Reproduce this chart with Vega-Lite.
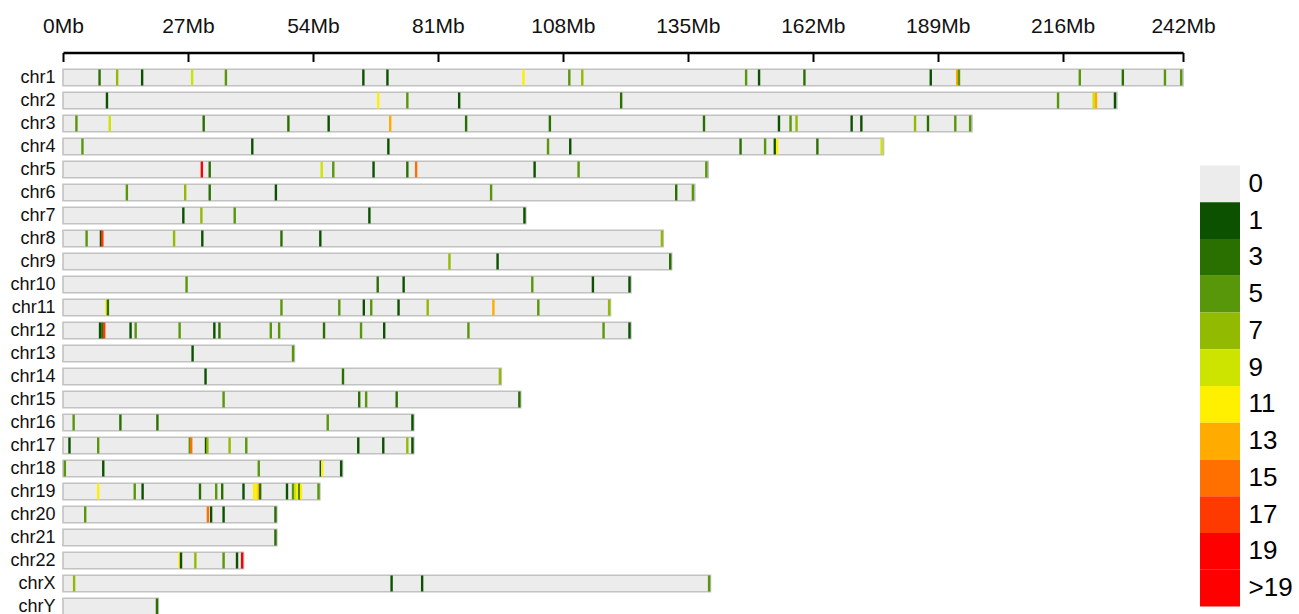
{
  "$schema": "https://vega.github.io/schema/vega-lite/v6.json",
  "background": "white",
  "padding": {"left": 9, "top": 15, "right": 0, "bottom": 0},
  "bounds": "flush",
  "spacing": 17,
  "config": {
    "view": {"stroke": null},
    "font": "Liberation Sans",
    "axis": {"labelFont": "Liberation Sans", "labelColor": "#111111", "grid": false}
  },
  "datasets": {
    "chromosomes": [
      {"chr": "chr1", "len": 242.0}, {"chr": "chr2", "len": 227.7}, {"chr": "chr3", "len": 196.4},
      {"chr": "chr4", "len": 177.3}, {"chr": "chr5", "len": 139.4}, {"chr": "chr6", "len": 136.5},
      {"chr": "chr7", "len": 100.0}, {"chr": "chr8", "len": 129.7}, {"chr": "chr9", "len": 131.5},
      {"chr": "chr10", "len": 122.7}, {"chr": "chr11", "len": 118.3}, {"chr": "chr12", "len": 122.7},
      {"chr": "chr13", "len": 50.0}, {"chr": "chr14", "len": 94.7}, {"chr": "chr15", "len": 98.9},
      {"chr": "chr16", "len": 75.8}, {"chr": "chr17", "len": 75.8}, {"chr": "chr18", "len": 60.4},
      {"chr": "chr19", "len": 55.5}, {"chr": "chr20", "len": 46.2}, {"chr": "chr21", "len": 46.2},
      {"chr": "chr22", "len": 39.0}, {"chr": "chrX", "len": 139.9}, {"chr": "chrY", "len": 20.6}
    ],
    "density": [
      {"chr": "chr1", "pos": 7.9, "n": "3"}, {"chr": "chr1", "pos": 11.7, "n": "7"}, {"chr": "chr1", "pos": 17.1, "n": "1"},
      {"chr": "chr1", "pos": 27.9, "n": "9"}, {"chr": "chr1", "pos": 35.2, "n": "5"}, {"chr": "chr1", "pos": 64.9, "n": "1"},
      {"chr": "chr1", "pos": 70.1, "n": "1"}, {"chr": "chr1", "pos": 99.5, "n": "11"}, {"chr": "chr1", "pos": 109.4, "n": "5"},
      {"chr": "chr1", "pos": 112.2, "n": "7"}, {"chr": "chr1", "pos": 147.6, "n": "5"}, {"chr": "chr1", "pos": 150.4, "n": "1"},
      {"chr": "chr1", "pos": 160.2, "n": "3"}, {"chr": "chr1", "pos": 187.5, "n": "1"}, {"chr": "chr1", "pos": 193.2, "n": "13"},
      {"chr": "chr1", "pos": 193.6, "n": "5"}, {"chr": "chr1", "pos": 219.7, "n": "5"}, {"chr": "chr1", "pos": 229.0, "n": "3"},
      {"chr": "chr1", "pos": 238.1, "n": "5"}, {"chr": "chr1", "pos": 241.6, "n": "5"},
      {"chr": "chr2", "pos": 9.5, "n": "1"}, {"chr": "chr2", "pos": 68.1, "n": "11"}, {"chr": "chr2", "pos": 74.4, "n": "5"},
      {"chr": "chr2", "pos": 85.6, "n": "1"}, {"chr": "chr2", "pos": 120.6, "n": "3"}, {"chr": "chr2", "pos": 215.0, "n": "5"},
      {"chr": "chr2", "pos": 222.7, "n": "9"}, {"chr": "chr2", "pos": 223.2, "n": "13"}, {"chr": "chr2", "pos": 227.3, "n": "1"},
      {"chr": "chr3", "pos": 2.9, "n": "5"}, {"chr": "chr3", "pos": 10.1, "n": "9"}, {"chr": "chr3", "pos": 30.4, "n": "3"},
      {"chr": "chr3", "pos": 48.7, "n": "3"}, {"chr": "chr3", "pos": 57.4, "n": "1"}, {"chr": "chr3", "pos": 70.7, "n": "13"},
      {"chr": "chr3", "pos": 87.1, "n": "3"}, {"chr": "chr3", "pos": 105.2, "n": "3"}, {"chr": "chr3", "pos": 138.5, "n": "3"},
      {"chr": "chr3", "pos": 154.7, "n": "1"}, {"chr": "chr3", "pos": 157.2, "n": "5"}, {"chr": "chr3", "pos": 158.5, "n": "7"},
      {"chr": "chr3", "pos": 170.4, "n": "1"}, {"chr": "chr3", "pos": 172.5, "n": "1"}, {"chr": "chr3", "pos": 184.1, "n": "7"},
      {"chr": "chr3", "pos": 186.9, "n": "3"}, {"chr": "chr3", "pos": 192.8, "n": "5"}, {"chr": "chr3", "pos": 196.0, "n": "5"},
      {"chr": "chr4", "pos": 4.2, "n": "5"}, {"chr": "chr4", "pos": 40.9, "n": "1"}, {"chr": "chr4", "pos": 70.3, "n": "1"},
      {"chr": "chr4", "pos": 104.8, "n": "5"}, {"chr": "chr4", "pos": 109.6, "n": "1"}, {"chr": "chr4", "pos": 146.4, "n": "3"},
      {"chr": "chr4", "pos": 151.7, "n": "5"}, {"chr": "chr4", "pos": 153.8, "n": "1"}, {"chr": "chr4", "pos": 154.3, "n": "11"},
      {"chr": "chr4", "pos": 163.0, "n": "3"}, {"chr": "chr4", "pos": 176.9, "n": "9"},
      {"chr": "chr5", "pos": 30.0, "n": "19"}, {"chr": "chr5", "pos": 31.7, "n": "3"}, {"chr": "chr5", "pos": 55.9, "n": "9"},
      {"chr": "chr5", "pos": 58.4, "n": "5"}, {"chr": "chr5", "pos": 67.1, "n": "1"}, {"chr": "chr5", "pos": 74.4, "n": "3"},
      {"chr": "chr5", "pos": 76.3, "n": "15"}, {"chr": "chr5", "pos": 101.9, "n": "1"}, {"chr": "chr5", "pos": 111.4, "n": "5"},
      {"chr": "chr5", "pos": 139.0, "n": "5"},
      {"chr": "chr6", "pos": 13.8, "n": "5"}, {"chr": "chr6", "pos": 26.4, "n": "7"}, {"chr": "chr6", "pos": 31.7, "n": "3"},
      {"chr": "chr6", "pos": 46.0, "n": "1"}, {"chr": "chr6", "pos": 92.5, "n": "5"}, {"chr": "chr6", "pos": 132.5, "n": "3"},
      {"chr": "chr6", "pos": 136.1, "n": "5"},
      {"chr": "chr7", "pos": 26.0, "n": "1"}, {"chr": "chr7", "pos": 29.9, "n": "7"}, {"chr": "chr7", "pos": 37.1, "n": "5"},
      {"chr": "chr7", "pos": 66.2, "n": "1"}, {"chr": "chr7", "pos": 99.7, "n": "1"},
      {"chr": "chr8", "pos": 5.1, "n": "5"}, {"chr": "chr8", "pos": 8.2, "n": "1"}, {"chr": "chr8", "pos": 8.5, "n": "17"},
      {"chr": "chr8", "pos": 24.0, "n": "7"}, {"chr": "chr8", "pos": 30.1, "n": "1"}, {"chr": "chr8", "pos": 47.2, "n": "3"},
      {"chr": "chr8", "pos": 55.6, "n": "1"}, {"chr": "chr8", "pos": 129.4, "n": "7"},
      {"chr": "chr9", "pos": 83.5, "n": "7"}, {"chr": "chr9", "pos": 93.9, "n": "1"}, {"chr": "chr9", "pos": 131.2, "n": "3"},
      {"chr": "chr10", "pos": 26.7, "n": "5"}, {"chr": "chr10", "pos": 68.0, "n": "3"}, {"chr": "chr10", "pos": 73.6, "n": "1"},
      {"chr": "chr10", "pos": 101.4, "n": "5"}, {"chr": "chr10", "pos": 114.5, "n": "1"}, {"chr": "chr10", "pos": 122.4, "n": "1"},
      {"chr": "chr11", "pos": 9.4, "n": "11"}, {"chr": "chr11", "pos": 9.7, "n": "3"}, {"chr": "chr11", "pos": 47.2, "n": "5"},
      {"chr": "chr11", "pos": 59.7, "n": "5"}, {"chr": "chr11", "pos": 65.0, "n": "1"}, {"chr": "chr11", "pos": 66.6, "n": "5"},
      {"chr": "chr11", "pos": 72.5, "n": "1"}, {"chr": "chr11", "pos": 78.8, "n": "7"}, {"chr": "chr11", "pos": 93.0, "n": "13"},
      {"chr": "chr11", "pos": 102.7, "n": "5"}, {"chr": "chr11", "pos": 118.0, "n": "7"},
      {"chr": "chr12", "pos": 8.0, "n": "1"}, {"chr": "chr12", "pos": 8.5, "n": "3"}, {"chr": "chr12", "pos": 8.9, "n": "17"},
      {"chr": "chr12", "pos": 14.6, "n": "1"}, {"chr": "chr12", "pos": 15.7, "n": "5"}, {"chr": "chr12", "pos": 25.2, "n": "5"},
      {"chr": "chr12", "pos": 32.7, "n": "1"}, {"chr": "chr12", "pos": 33.8, "n": "3"}, {"chr": "chr12", "pos": 44.9, "n": "5"},
      {"chr": "chr12", "pos": 46.7, "n": "5"}, {"chr": "chr12", "pos": 56.4, "n": "3"}, {"chr": "chr12", "pos": 64.4, "n": "5"},
      {"chr": "chr12", "pos": 69.4, "n": "1"}, {"chr": "chr12", "pos": 87.6, "n": "5"}, {"chr": "chr12", "pos": 116.8, "n": "5"},
      {"chr": "chr12", "pos": 122.4, "n": "1"},
      {"chr": "chr13", "pos": 28.0, "n": "1"}, {"chr": "chr13", "pos": 49.7, "n": "5"},
      {"chr": "chr14", "pos": 30.8, "n": "1"}, {"chr": "chr14", "pos": 60.5, "n": "3"}, {"chr": "chr14", "pos": 94.4, "n": "7"},
      {"chr": "chr15", "pos": 34.7, "n": "5"}, {"chr": "chr15", "pos": 64.0, "n": "3"}, {"chr": "chr15", "pos": 65.5, "n": "5"},
      {"chr": "chr15", "pos": 72.1, "n": "3"}, {"chr": "chr15", "pos": 98.6, "n": "3"},
      {"chr": "chr16", "pos": 2.3, "n": "5"}, {"chr": "chr16", "pos": 12.4, "n": "3"}, {"chr": "chr16", "pos": 20.4, "n": "3"},
      {"chr": "chr16", "pos": 57.2, "n": "5"}, {"chr": "chr16", "pos": 75.5, "n": "1"},
      {"chr": "chr17", "pos": 1.4, "n": "1"}, {"chr": "chr17", "pos": 7.6, "n": "5"}, {"chr": "chr17", "pos": 27.4, "n": "5"},
      {"chr": "chr17", "pos": 27.7, "n": "15"}, {"chr": "chr17", "pos": 30.9, "n": "1"}, {"chr": "chr17", "pos": 31.2, "n": "7"},
      {"chr": "chr17", "pos": 36.0, "n": "7"}, {"chr": "chr17", "pos": 39.6, "n": "5"}, {"chr": "chr17", "pos": 63.8, "n": "1"},
      {"chr": "chr17", "pos": 69.2, "n": "1"}, {"chr": "chr17", "pos": 74.4, "n": "7"}, {"chr": "chr17", "pos": 75.5, "n": "1"},
      {"chr": "chr18", "pos": 0.4, "n": "5"}, {"chr": "chr18", "pos": 8.7, "n": "1"}, {"chr": "chr18", "pos": 42.3, "n": "5"},
      {"chr": "chr18", "pos": 55.7, "n": "1"}, {"chr": "chr18", "pos": 56.0, "n": "11"}, {"chr": "chr18", "pos": 60.1, "n": "1"},
      {"chr": "chr19", "pos": 7.6, "n": "11"}, {"chr": "chr19", "pos": 15.5, "n": "5"}, {"chr": "chr19", "pos": 17.2, "n": "1"},
      {"chr": "chr19", "pos": 29.6, "n": "3"}, {"chr": "chr19", "pos": 33.1, "n": "5"}, {"chr": "chr19", "pos": 34.4, "n": "3"},
      {"chr": "chr19", "pos": 39.0, "n": "1"}, {"chr": "chr19", "pos": 41.3, "n": "11"}, {"chr": "chr19", "pos": 41.8, "n": "11"},
      {"chr": "chr19", "pos": 42.3, "n": "13"}, {"chr": "chr19", "pos": 42.6, "n": "3"}, {"chr": "chr19", "pos": 48.4, "n": "1"},
      {"chr": "chr19", "pos": 49.7, "n": "5"}, {"chr": "chr19", "pos": 50.2, "n": "9"}, {"chr": "chr19", "pos": 50.7, "n": "11"},
      {"chr": "chr19", "pos": 51.1, "n": "1"}, {"chr": "chr19", "pos": 51.4, "n": "11"}, {"chr": "chr19", "pos": 55.2, "n": "5"},
      {"chr": "chr20", "pos": 4.8, "n": "5"}, {"chr": "chr20", "pos": 31.3, "n": "15"}, {"chr": "chr20", "pos": 32.0, "n": "1"},
      {"chr": "chr20", "pos": 34.7, "n": "1"}, {"chr": "chr20", "pos": 45.9, "n": "3"},
      {"chr": "chr21", "pos": 45.9, "n": "3"},
      {"chr": "chr22", "pos": 25.2, "n": "11"}, {"chr": "chr22", "pos": 25.5, "n": "1"}, {"chr": "chr22", "pos": 28.6, "n": "7"},
      {"chr": "chr22", "pos": 34.7, "n": "5"}, {"chr": "chr22", "pos": 37.6, "n": "1"}, {"chr": "chr22", "pos": 38.7, "n": "19"},
      {"chr": "chrX", "pos": 2.4, "n": "7"}, {"chr": "chrX", "pos": 71.0, "n": "1"}, {"chr": "chrX", "pos": 77.6, "n": "1"},
      {"chr": "chrX", "pos": 139.6, "n": "5"},
      {"chr": "chrY", "pos": 20.3, "n": "3"}
    ],
    "key": [
      {"label": "0"}, {"label": "1"}, {"label": "3"}, {"label": "5"}, {"label": "7"}, {"label": "9"},
      {"label": "11"}, {"label": "13"}, {"label": "15"}, {"label": "17"}, {"label": "19"}, {"label": ">19"}
    ]
  },
  "hconcat": [
    {
      "width": 1120,
      "height": 552,
      "layer": [
        {
          "data": {"name": "chromosomes"},
          "mark": {"type": "bar", "fill": "#ececec", "stroke": "#c2c2c2", "strokeWidth": 1.6},
          "encoding": {
            "x": {
              "field": "len",
              "type": "quantitative",
              "scale": {"domain": [0, 242], "nice": false, "zero": true},
              "axis": {
                "orient": "top",
                "title": null,
                "values": [0, 27, 54, 81, 108, 135, 162, 189, 216, 242],
                "labelExpr": "datum.value + 'Mb'",
                "labelFontSize": 21,
                "labelPadding": 25,
                "labelFlush": false,
                "labelColor": "#111111",
                "offset": 13.5,
                "domainColor": "#000000",
                "domainWidth": 2.5,
                "tickColor": "#000000",
                "tickWidth": 2,
                "tickSize": -9
              }
            },
            "y": {
              "field": "chr",
              "type": "nominal",
              "sort": ["chr1", "chr2", "chr3", "chr4", "chr5", "chr6", "chr7", "chr8", "chr9", "chr10", "chr11", "chr12", "chr13", "chr14", "chr15", "chr16", "chr17", "chr18", "chr19", "chr20", "chr21", "chr22", "chrX", "chrY"],
              "scale": {"paddingInner": 0.28, "paddingOuter": 0.14},
              "axis": {
                "title": null,
                "domain": false,
                "ticks": false,
                "labelFontSize": 18,
                "labelPadding": 8
              }
            }
          }
        },
        {
          "data": {"name": "density"},
          "mark": {"type": "tick", "thickness": 2.4, "size": 16, "opacity": 1},
          "encoding": {
            "x": {"field": "pos", "type": "quantitative"},
            "y": {
              "field": "chr",
              "type": "nominal",
              "sort": ["chr1", "chr2", "chr3", "chr4", "chr5", "chr6", "chr7", "chr8", "chr9", "chr10", "chr11", "chr12", "chr13", "chr14", "chr15", "chr16", "chr17", "chr18", "chr19", "chr20", "chr21", "chr22", "chrX", "chrY"]
            },
            "color": {
              "field": "n", "type": "nominal",
              "scale": {
                "domain": ["0", "1", "3", "5", "7", "9", "11", "13", "15", "17", "19", ">19"],
                "range": ["#ececec", "#0b5100", "#2a7000", "#58960a", "#92ba00", "#cde300", "#fff000", "#ffab00", "#ff7000", "#ff3a00", "#ff0000", "#ff0000"]
              },
              "legend": null
            }
          }
        }
      ]
    },
    {
      "width": 40,
      "height": 552,
      "data": {"name": "key"},
      "mark": {"type": "bar"},
      "encoding": {
        "y": {
          "field": "label", "type": "nominal", "sort": null,
          "scale": {"paddingInner": 0, "paddingOuter": 0, "range": [99.5, 540.5]},
          "axis": {
            "orient": "right",
            "title": null,
            "domain": false,
            "ticks": false,
            "labelFontSize": 26,
            "labelPadding": 8,
            "labelColor": "#000000"
          }
        },
        "color": {
          "field": "label", "type": "nominal",
          "scale": {
            "domain": ["0", "1", "3", "5", "7", "9", "11", "13", "15", "17", "19", ">19"],
            "range": ["#ececec", "#0b5100", "#2a7000", "#58960a", "#92ba00", "#cde300", "#fff000", "#ffab00", "#ff7000", "#ff3a00", "#ff0000", "#ff0000"]
          },
          "legend": null
        }
      }
    }
  ],
  "resolve": {"scale": {"y": "independent"}}
}
